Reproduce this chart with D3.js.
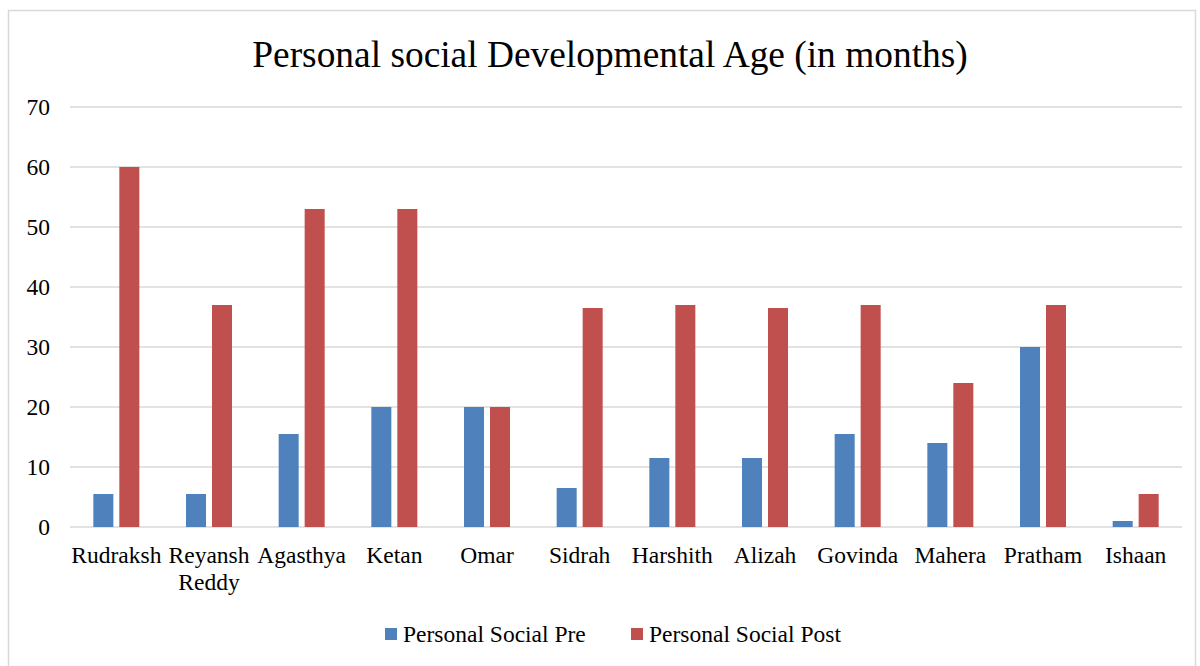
<!DOCTYPE html>
<html>
<head>
<meta charset="utf-8">
<script src="https://cdn.jsdelivr.net/npm/d3@7"></script>
<style>
  body { margin: 0; background: #fff; }
  svg { display: block; font-family: "Liberation Serif", "Times New Roman", serif; }
</style>
</head>
<body>
<div id="chart"></div>
<script>
var names = ["Rudraksh", "Reyansh Reddy", "Agasthya", "Ketan", "Omar", "Sidrah",
             "Harshith", "Alizah", "Govinda", "Mahera", "Pratham", "Ishaan"];
var preValues  = [5.5, 5.5, 15.5, 20, 20, 6.5, 11.5, 11.5, 15.5, 14, 30, 1];
var postValues = [60, 37, 53, 53, 20, 36.5, 37, 36.5, 37, 24, 37, 5.5];
var seriesNames = ["Personal Social Pre", "Personal Social Post"];
var yTicks = [0, 10, 20, 30, 40, 50, 60, 70];

var W = 1200, H = 666;
var margin = {top: 107, left: 70, right: 18, bottom: 139},
    width  = W - margin.left - margin.right,
    height = H - margin.top - margin.bottom;

var color = d3.scaleOrdinal().domain(seriesNames).range(["#4f81bd", "#c0504d"]);

var data = names.map(function(n, i) {
  return {name: n, values: [preValues[i], postValues[i]]};
});

var x = d3.scaleBand().domain(names).range([0, width]).padding(0);
var x1 = d3.scaleBand().domain(seriesNames)
    .range([x.bandwidth() / 2 - 23, x.bandwidth() / 2 + 23])
    .paddingInner(0.23).paddingOuter(0);
var y = d3.scaleLinear().domain([0, 70]).range([height, 0]);

var svg = d3.select("#chart").append("svg")
    .attr("width", W).attr("height", H);

svg.append("rect")
    .attr("x", 8.5).attr("y", 10.5)
    .attr("width", 1187).attr("height", 700)
    .attr("fill", "#fff").attr("stroke", "#d9d9d9").attr("stroke-width", 1.5);

svg.append("text")
    .attr("x", 610).attr("y", 67)
    .attr("text-anchor", "middle")
    .attr("font-size", 37.4)
    .attr("fill", "#000")
    .text("Personal social Developmental Age (in months)");

var g = svg.append("g").attr("transform", "translate(" + margin.left + "," + margin.top + ")");

// gridlines
g.append("g")
  .selectAll("line")
  .data(yTicks)
  .enter().append("line")
    .attr("x1", 0).attr("x2", width)
    .attr("y1", function(d) { return y(d); })
    .attr("y2", function(d) { return y(d); })
    .attr("stroke", "#d9d9d9")
    .attr("stroke-width", 1.5);

// y axis labels
var yAxis = g.append("g")
    .call(d3.axisLeft(y).tickValues(yTicks).tickSize(0).tickPadding(20));
yAxis.select(".domain").remove();
yAxis.selectAll("text")
    .attr("font-family", "Liberation Serif, Times New Roman, serif")
    .attr("font-size", 23.5)
    .attr("fill", "#000");

// bars
var groups = g.selectAll(".cat")
  .data(data)
  .enter().append("g")
    .attr("class", "cat")
    .attr("transform", function(d) { return "translate(" + x(d.name) + ",0)"; });

groups.selectAll("rect")
  .data(function(d) { return d.values.map(function(v, i) { return {key: seriesNames[i], value: v}; }); })
  .enter().append("rect")
    .attr("x", function(d) { return x1(d.key); })
    .attr("width", x1.bandwidth())
    .attr("y", function(d) { return y(d.value); })
    .attr("height", function(d) { return height - y(d.value); })
    .attr("fill", function(d) { return color(d.key); });

// x axis labels
var xAxis = g.append("g")
    .attr("transform", "translate(0," + height + ")")
    .call(d3.axisBottom(x).tickSize(0).tickPadding(19));
xAxis.select(".domain").remove();
xAxis.selectAll("text")
    .attr("font-family", "Liberation Serif, Times New Roman, serif")
    .attr("font-size", 23.5)
    .attr("fill", "#000")
    .each(function(d) {
      var t = d3.select(this), words = d.split(" ");
      if (words.length > 1) {
        t.text(null);
        words.forEach(function(w, i) {
          t.append("tspan").attr("x", 0).attr("dy", i ? "1.15em" : "0.71em").text(w);
        });
      }
    });

// legend
var legend = svg.append("g").attr("transform", "translate(385,628)");
var lx = [0, 246];
seriesNames.forEach(function(s, i) {
  var lg = legend.append("g").attr("transform", "translate(" + lx[i] + ",0)");
  lg.append("rect").attr("width", 12).attr("height", 12).attr("fill", color(s));
  lg.append("text").attr("x", 18).attr("y", 14)
    .attr("font-size", 23.5).attr("fill", "#000").text(s);
});
</script>
</body>
</html>
